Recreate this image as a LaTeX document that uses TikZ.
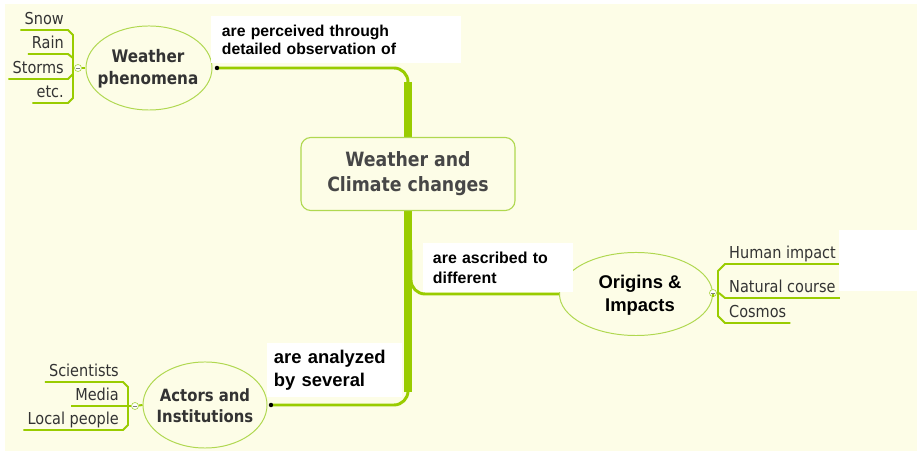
\documentclass[tikz,border=0pt]{standalone}
\usepackage{fontspec}
\usetikzlibrary{shapes.geometric}
\newfontfamily\mapfont[FakeStretch=0.88]{DejaVu Sans}
\newfontfamily\lblfont{Liberation Sans}
\definecolor{bgyellow}{HTML}{FDFDE7}
\definecolor{branchgreen}{HTML}{99CC00}
\definecolor{topicline}{HTML}{B0D850}
\definecolor{topictext}{HTML}{333333}
\tikzset{
    trunk/.style={draw=branchgreen, line width=5.6pt},
    branch/.style={draw=branchgreen, line width=2.1pt, rounded corners=10pt},
    topic/.style={ellipse, draw=topicline, line width=0.7pt, fill=bgyellow, inner sep=0pt},
    topiclabel/.style={align=center, inner sep=0pt, text=topictext},
    core/.style={rectangle, rounded corners=7pt, draw=topicline, line width=0.8pt, fill=bgyellow, align=center, text=topictext!90!white, minimum width=5.35cm, minimum height=1.825cm, font=\mapfont\bfseries\fontsize{14}{17.7}\selectfont},
    lbl/.style={fill=white, inner ysep=0pt, align=left},
    leaf/.style={inner xsep=2.8pt, inner ysep=3.5pt, text depth=0pt, text=topictext, font=\mapfont\fontsize{11.7}{14}\selectfont},
    leafline/.style={draw=branchgreen, line width=1.4pt},
    fold/.style={circle, draw=topicline, fill=white, line width=0.5pt, minimum size=5pt, inner sep=0pt,
        path picture={\draw[gray, line width=0.4pt] ([xshift=-1.4pt]path picture bounding box.center) -- ([xshift=1.4pt]path picture bounding box.center);}},
    dot/.style={circle, fill, inner sep=0pt, minimum size=3pt}
}

\begin{document}
\begin{tikzpicture}[x=0.025cm, y=-0.025cm]
    \useasboundingbox (0,0) rectangle (917,451);
    \fill[bgyellow] (5,4) rectangle (917,451);

    \node[topic, minimum width=3.15cm, minimum height=2.1cm] (wp) at (149,68) {};
    \node[topic, minimum width=3.825cm, minimum height=2.075cm] (oi) at (636,294) {};
    \node[topic, minimum width=3.1cm, minimum height=2.15cm] (ai) at (205,405) {};
    \node[dot] (wp-dot) at (217,68) {};
    \node[dot] (ai-dot) at (271,405) {};

    \draw[trunk] (408,82) -- (408,392);
    \draw[branch] (wp-dot.center) -| (408,110);
    \draw[branch] (408,370) |- (ai-dot.center);
    \draw[branch] (411,250) |- (oi.west);
    \node[dot] at (wp-dot) {};
    \node[dot] at (ai-dot) {};

    \node[topiclabel, font=\mapfont\bfseries\fontsize{12.3}{15.6}\selectfont] (wp-text) at (148,69) {Weather\\phenomena};
    \node[topiclabel, text=black, font=\lblfont\bfseries\fontsize{13.1}{16.3}\selectfont] (oi-text) at (640,295) {Origins \&\\Impacts};
    \node[topiclabel, font=\mapfont\bfseries\fontsize{12}{14.9}\selectfont] (ai-text) at (205,406) {Actors and\\Institutions};

    \node[core] (core) at (408,174) {Weather and\\Climate changes};

    \node[lbl, text width=5.7cm, inner xsep=0.275cm, minimum height=1.175cm, font=\lblfont\bfseries\fontsize{11.2}{12.8}\selectfont] (lbl-perc) at (336,39.5) {are perceived through\\detailed observation of};
    \node[lbl, text width=3.25cm, inner xsep=0.25cm, minimum height=1.225cm, font=\lblfont\bfseries\fontsize{11.3}{14.2}\selectfont] (lbl-ascr) at (498,267.5) {are ascribed to\\different};
    \node[lbl, text width=3.025cm, inner xsep=0.175cm, minimum height=1.35cm, font=\lblfont\bfseries\fontsize{13.1}{16.3}\selectfont] (lbl-anal) at (334.5,370) {are analyzed\\by several};

    \node[fold] (wp-fold) at (78,68) {};
    \node[fold] (oi-fold) at (713,293) {};
    \node[fold] (ai-fold) at (135,406) {};

    \node[leaf, anchor=south east] (snow) at (68,30) {Snow};
    \node[leaf, anchor=south east] (rain) at (68,54) {Rain};
    \node[leaf, anchor=south east] (storms) at (68,79) {Storms};
    \node[leaf, anchor=south east] (etc) at (68,103) {etc.};
    \draw[leafline] (snow.south west) -- (snow.south east) -- ++(5,5) -- (73,98) -- (etc.south east) -- (etc.south west);
    \draw[leafline] (rain.south west) -- (rain.south east) -- ++(5,4);
    \draw[leafline] (storms.south west) -- (storms.south east) -- ++(5,-5);
    \draw[leafline] (73,68) -- (wp-fold);
    \draw[leafline] (wp-fold) -- (wp.west);

    \node[leaf, anchor=south west] (human) at (725,264) {Human impact};
    \node[leaf, anchor=south west] (natural) at (725,298) {Natural course};
    \node[leaf, anchor=south west] (cosmos) at (725,323) {Cosmos};
    \draw[leafline] (human.south east) -- (human.south west) -- ++(-7,7) -- (718,316) -- (cosmos.south west) -- (cosmos.south east);
    \draw[leafline] (natural.south east) -- (natural.south west) -- ++(-6,-5);
    \draw[leafline] (oi.east) -- (oi-fold) -- (718,293);

    \node[leaf, anchor=south east] (sci) at (123,382) {Scientists};
    \node[leaf, anchor=south east] (media) at (123,406) {Media};
    \node[leaf, anchor=south east] (local) at (123,430) {Local people};
    \draw[leafline] (sci.south west) -- (sci.south east) -- ++(5,5) -- (128,425) -- (local.south east) -- (local.south west);
    \draw[leafline] (media.south west) -- (ai-fold);
    \draw[leafline] (ai-fold) -- (ai.west);

    \fill[white] (839,230) rectangle (917,291);
\end{tikzpicture}
\end{document}
